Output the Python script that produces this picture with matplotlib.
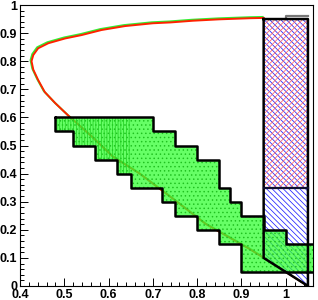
import matplotlib
matplotlib.use("Agg")
import matplotlib.pyplot as plt
import matplotlib.transforms as mtransforms
import numpy as np

# curve (lower branch -> nose -> upper branch)
curve_x = [1.05, 0.95, 0.92, 0.82, 0.75, 0.67, 0.61, 0.56, 0.51, 0.48, 0.456,
           0.441, 0.43, 0.426, 0.43, 0.441, 0.464, 0.502, 0.539, 0.584, 0.637,
           0.70, 0.74, 0.79, 0.85, 0.92, 0.95]
curve_y = [0.0, 0.10, 0.13, 0.22, 0.305, 0.40, 0.46, 0.535, 0.605, 0.65, 0.69,
           0.733, 0.77, 0.80, 0.822, 0.846, 0.864, 0.881, 0.893, 0.911, 0.925,
           0.935, 0.938, 0.944, 0.949, 0.953, 0.954]

# green staircase band
band_x = [0.48, 0.52, 0.57, 0.62, 0.65, 0.70, 0.72, 0.75, 0.80, 0.85, 0.875,
          0.90, 0.95, 1.00, 1.10]
band_lo = [0.55, 0.50, 0.45, 0.40, 0.35, 0.35, 0.30, 0.25, 0.20, 0.15, 0.15,
           0.05, 0.05, 0.05]
band_hi = [0.60, 0.60, 0.60, 0.60, 0.60, 0.55, 0.55, 0.50, 0.45, 0.35, 0.30,
           0.25, 0.20, 0.15]
stripe_until = 0.65

# blue box
box_x = [0.95, 1.05]
box_top = 0.95
box_mid = 0.35
box_bottom = [0.10, 0.0]   # left, right
gray_x = [1.0, 1.0, 1.05]
gray_y = [0.954, 0.962, 0.962]

xticks = [0.4, 0.5, 0.6, 0.7, 0.8, 0.9, 1.0]
xticklabels = ["0.4", "0.5", "0.6", "0.7", "0.8", "0.9", "1"]
yticks = [0, 0.1, 0.2, 0.3, 0.4, 0.5, 0.6, 0.7, 0.8, 0.9, 1.0]
yticklabels = ["0", "0.1", "0.2", "0.3", "0.4", "0.5", "0.6", "0.7", "0.8", "0.9", "1"]

plt.rcParams['font.family'] = ['Liberation Sans', 'DejaVu Sans']
plt.rcParams['hatch.linewidth'] = 0.55

fig = plt.figure(figsize=(3.18, 3.00), dpi=100)
ax = fig.add_axes([20 / 318, 14 / 300, 293 / 318, 281 / 300])
ax.set_xlim(0.4, 1.0614)
ax.set_ylim(0, 1)

# curve: green underlay shifted one pixel, red on top
shifted = mtransforms.offset_copy(ax.transData, fig=fig, x=-1, y=1, units='dots')
ax.plot(curve_x, curve_y, color='#33ee33', lw=1.4, transform=shifted, zorder=1)
ax.plot(curve_x, curve_y, color='#ff2200', lw=1.4, zorder=1.1)

# blue region
poly_x = [box_x[0], box_x[1], box_x[1], box_x[0]]
poly_y = [box_top, box_top, box_bottom[1], box_bottom[0]]
ax.fill(poly_x, poly_y, facecolor='white', edgecolor='#2020ff', hatch='\\' * 6,
        lw=0, zorder=2)
ax.fill([box_x[0], box_x[1], box_x[1], box_x[0]],
        [box_mid, box_mid, box_top, box_top], facecolor='none',
        edgecolor='#ff6060', hatch='/' * 6, lw=0, zorder=2.1)
ax.plot(gray_x, gray_y, color='#777777', lw=1.6, zorder=2.2,
        solid_joinstyle='round')

# green band
lo = band_lo + [band_lo[-1]]
hi = band_hi + [band_hi[-1]]
ax.fill_between(band_x, lo, hi, step='post', facecolor='#33ff33', alpha=0.75,
                lw=0, zorder=3)
ax.fill_between(band_x, lo, hi, step='post', facecolor='none',
                edgecolor='#20c020', hatch='....', lw=0, zorder=3.1)
n_str = band_x.index(stripe_until) + 1
ax.fill_between(band_x[:n_str], lo[:n_str], hi[:n_str], step='post',
                facecolor='none', edgecolor='#22d022', hatch='|' * 6, lw=0,
                zorder=3.2)

ox = []
oy = []
for i in range(len(band_hi)):
    ox += [band_x[i], band_x[i + 1]]
    oy += [band_hi[i], band_hi[i]]
for i in reversed(range(len(band_lo))):
    ox += [band_x[i + 1], band_x[i]]
    oy += [band_lo[i], band_lo[i]]
ox.append(ox[0])
oy.append(oy[0])
ax.plot(ox, oy, color='black', lw=1.8, zorder=4, solid_joinstyle='round',
        solid_capstyle='round')

# box outlines
ax.plot(poly_x + [poly_x[0]], poly_y + [poly_y[0]], color='black', lw=1.8,
        zorder=5, solid_joinstyle='round')
ax.plot(box_x, [box_mid, box_mid], color='#101030', lw=1.6, zorder=5)

# axes styling
ax.set_xticks(xticks)
ax.set_xticklabels(xticklabels)
ax.set_yticks(yticks)
ax.set_yticklabels(yticklabels)
ax.set_xticks(np.arange(0.4, 1.06, 0.02), minor=True)
ax.set_yticks(np.arange(0, 1.0, 0.02), minor=True)
ax.tick_params(which='both', direction='in', top=False, right=False,
               width=0.7, labelsize=9)
ax.tick_params(which='major', length=6)
ax.tick_params(which='minor', length=3)
ax.tick_params(axis='y', pad=2)
ax.tick_params(axis='x', pad=2)
for lab in ax.get_xticklabels() + ax.get_yticklabels():
    lab.set_fontweight('bold')
for sp in ax.spines.values():
    sp.set_linewidth(0.8)

fig.savefig("out.png", dpi=100)
